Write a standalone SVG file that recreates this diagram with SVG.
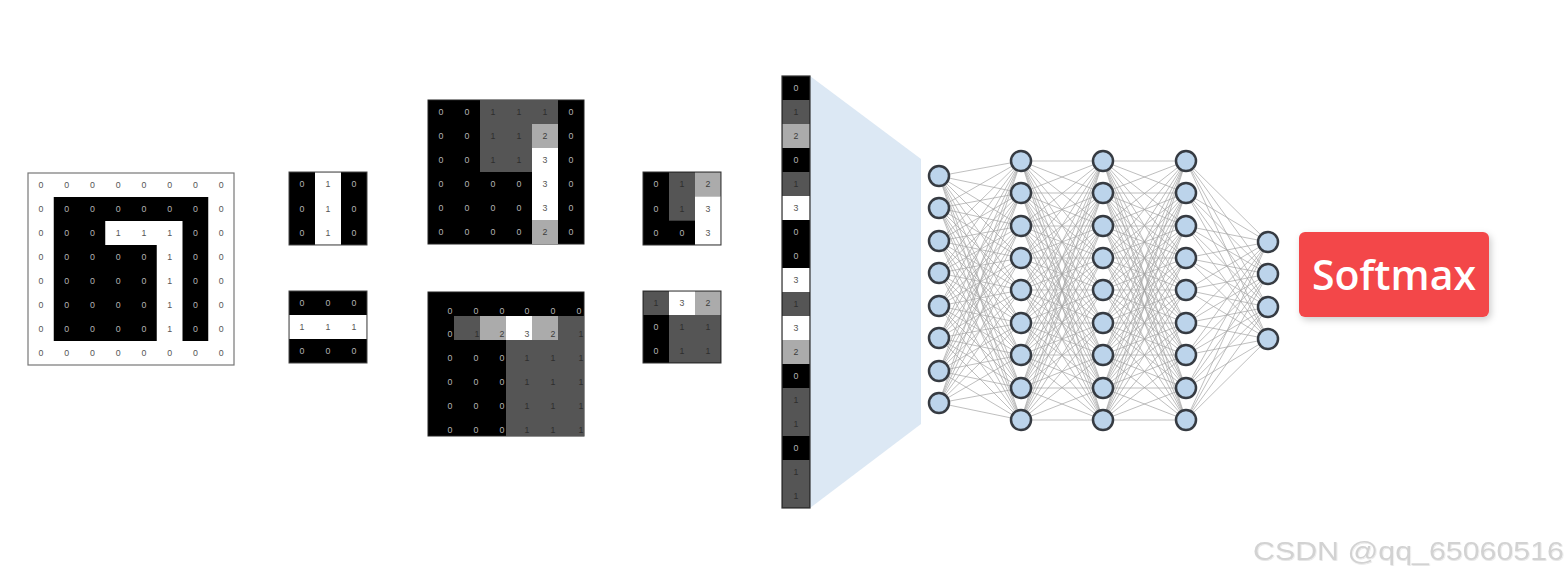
<svg xmlns="http://www.w3.org/2000/svg" xmlns:xlink="http://www.w3.org/1999/xlink" width="1568" height="578" viewBox="0 0 1568 578">
<style>
text{font-family:"Liberation Sans",Arial,sans-serif;font-size:8.8px;text-anchor:middle}
.tw{fill:#555}.tk{fill:#b4b4b4}.td{fill:#2e2e2e}.tl{fill:#3c3c3c}
.k{fill:#000}.w{fill:#fff}.d{fill:#555}.l{fill:#ababab}
.nd{fill:#bcd4eb;stroke:#363b42;stroke-width:2.5}
.ed{fill:none;stroke:#a3a3a3;stroke-width:0.7}
</style>
<defs>
<clipPath id="cpb"><rect x="428" y="292" width="156" height="144"/></clipPath>
<filter id="sh" x="-10%" y="-10%" width="130%" height="140%"><feDropShadow dx="2" dy="3" stdDeviation="3.5" flood-color="#000" flood-opacity="0.2"/></filter>
<filter id="ws" x="-5%" y="-20%" width="110%" height="150%"><feDropShadow dx="0.6" dy="0.8" stdDeviation="0.6" flood-color="#000" flood-opacity="0.12"/></filter>
<path id="e89" class="ed" d="M0 176L82 161M0 176L82 193M0 176L82 226M0 176L82 258M0 176L82 290M0 176L82 323M0 176L82 355M0 176L82 388M0 176L82 420M0 208L82 161M0 208L82 193M0 208L82 226M0 208L82 258M0 208L82 290M0 208L82 323M0 208L82 355M0 208L82 388M0 208L82 420M0 241L82 161M0 241L82 193M0 241L82 226M0 241L82 258M0 241L82 290M0 241L82 323M0 241L82 355M0 241L82 388M0 241L82 420M0 273L82 161M0 273L82 193M0 273L82 226M0 273L82 258M0 273L82 290M0 273L82 323M0 273L82 355M0 273L82 388M0 273L82 420M0 306L82 161M0 306L82 193M0 306L82 226M0 306L82 258M0 306L82 290M0 306L82 323M0 306L82 355M0 306L82 388M0 306L82 420M0 338L82 161M0 338L82 193M0 338L82 226M0 338L82 258M0 338L82 290M0 338L82 323M0 338L82 355M0 338L82 388M0 338L82 420M0 371L82 161M0 371L82 193M0 371L82 226M0 371L82 258M0 371L82 290M0 371L82 323M0 371L82 355M0 371L82 388M0 371L82 420M0 403L82 161M0 403L82 193M0 403L82 226M0 403L82 258M0 403L82 290M0 403L82 323M0 403L82 355M0 403L82 388M0 403L82 420"/>
<path id="e99" class="ed" d="M0 161L82 161M0 161L82 193M0 161L82 226M0 161L82 258M0 161L82 290M0 161L82 323M0 161L82 355M0 161L82 388M0 161L82 420M0 193L82 161M0 193L82 193M0 193L82 226M0 193L82 258M0 193L82 290M0 193L82 323M0 193L82 355M0 193L82 388M0 193L82 420M0 226L82 161M0 226L82 193M0 226L82 226M0 226L82 258M0 226L82 290M0 226L82 323M0 226L82 355M0 226L82 388M0 226L82 420M0 258L82 161M0 258L82 193M0 258L82 226M0 258L82 258M0 258L82 290M0 258L82 323M0 258L82 355M0 258L82 388M0 258L82 420M0 290L82 161M0 290L82 193M0 290L82 226M0 290L82 258M0 290L82 290M0 290L82 323M0 290L82 355M0 290L82 388M0 290L82 420M0 323L82 161M0 323L82 193M0 323L82 226M0 323L82 258M0 323L82 290M0 323L82 323M0 323L82 355M0 323L82 388M0 323L82 420M0 355L82 161M0 355L82 193M0 355L82 226M0 355L82 258M0 355L82 290M0 355L82 323M0 355L82 355M0 355L82 388M0 355L82 420M0 388L82 161M0 388L82 193M0 388L82 226M0 388L82 258M0 388L82 290M0 388L82 323M0 388L82 355M0 388L82 388M0 388L82 420M0 420L82 161M0 420L82 193M0 420L82 226M0 420L82 258M0 420L82 290M0 420L82 323M0 420L82 355M0 420L82 388M0 420L82 420"/>
<path id="e94" class="ed" d="M0 161L82 242M0 161L82 274M0 161L82 307M0 161L82 339M0 193L82 242M0 193L82 274M0 193L82 307M0 193L82 339M0 226L82 242M0 226L82 274M0 226L82 307M0 226L82 339M0 258L82 242M0 258L82 274M0 258L82 307M0 258L82 339M0 290L82 242M0 290L82 274M0 290L82 307M0 290L82 339M0 323L82 242M0 323L82 274M0 323L82 307M0 323L82 339M0 355L82 242M0 355L82 274M0 355L82 307M0 355L82 339M0 388L82 242M0 388L82 274M0 388L82 307M0 388L82 339M0 420L82 242M0 420L82 274M0 420L82 307M0 420L82 339"/>
</defs>
<rect width="1568" height="578" fill="#fff"/>

<g id="input-image">
<rect x="28" y="173" width="206" height="192" fill="#fff" stroke="#777" stroke-width="1.2"/>
<rect x="53.75" y="197" width="154.5" height="144" class="k"/>
<polygon points="105.25,221 182.5,221 182.5,341 156.75,341 156.75,245 105.25,245" class="w"/>
<text class="tw" x="41" y="188">0</text><text class="tw" x="66.6" y="188">0</text><text class="tw" x="92.4" y="188">0</text><text class="tw" x="118.1" y="188">0</text><text class="tw" x="143.9" y="188">0</text><text class="tw" x="169.6" y="188">0</text><text class="tw" x="195.4" y="188">0</text><text class="tw" x="221.1" y="188">0</text>
<text class="tw" x="41" y="212">0</text><text class="tk" x="66.6" y="212">0</text><text class="tk" x="92.4" y="212">0</text><text class="tk" x="118.1" y="212">0</text><text class="tk" x="143.9" y="212">0</text><text class="tk" x="169.6" y="212">0</text><text class="tk" x="195.4" y="212">0</text><text class="tw" x="221.1" y="212">0</text>
<text class="tw" x="41" y="236">0</text><text class="tk" x="66.6" y="236">0</text><text class="tk" x="92.4" y="236">0</text><text class="tw" x="118.1" y="236">1</text><text class="tw" x="143.9" y="236">1</text><text class="tw" x="169.6" y="236">1</text><text class="tk" x="195.4" y="236">0</text><text class="tw" x="221.1" y="236">0</text>
<text class="tw" x="41" y="260">0</text><text class="tk" x="66.6" y="260">0</text><text class="tk" x="92.4" y="260">0</text><text class="tk" x="118.1" y="260">0</text><text class="tk" x="143.9" y="260">0</text><text class="tw" x="169.6" y="260">1</text><text class="tk" x="195.4" y="260">0</text><text class="tw" x="221.1" y="260">0</text>
<text class="tw" x="41" y="284">0</text><text class="tk" x="66.6" y="284">0</text><text class="tk" x="92.4" y="284">0</text><text class="tk" x="118.1" y="284">0</text><text class="tk" x="143.9" y="284">0</text><text class="tw" x="169.6" y="284">1</text><text class="tk" x="195.4" y="284">0</text><text class="tw" x="221.1" y="284">0</text>
<text class="tw" x="41" y="308">0</text><text class="tk" x="66.6" y="308">0</text><text class="tk" x="92.4" y="308">0</text><text class="tk" x="118.1" y="308">0</text><text class="tk" x="143.9" y="308">0</text><text class="tw" x="169.6" y="308">1</text><text class="tk" x="195.4" y="308">0</text><text class="tw" x="221.1" y="308">0</text>
<text class="tw" x="41" y="332">0</text><text class="tk" x="66.6" y="332">0</text><text class="tk" x="92.4" y="332">0</text><text class="tk" x="118.1" y="332">0</text><text class="tk" x="143.9" y="332">0</text><text class="tw" x="169.6" y="332">1</text><text class="tk" x="195.4" y="332">0</text><text class="tw" x="221.1" y="332">0</text>
<text class="tw" x="41" y="356">0</text><text class="tw" x="66.6" y="356">0</text><text class="tw" x="92.4" y="356">0</text><text class="tw" x="118.1" y="356">0</text><text class="tw" x="143.9" y="356">0</text><text class="tw" x="169.6" y="356">0</text><text class="tw" x="195.4" y="356">0</text><text class="tw" x="221.1" y="356">0</text>
</g>

<g id="filter-vertical">
<rect x="289" y="172" width="78" height="73" class="k" stroke="#444" stroke-width="1"/>
<rect x="315" y="172.5" width="26" height="72" class="w"/>
<text class="tk" x="302" y="187.2">0</text><text class="tw" x="328" y="187.2">1</text><text class="tk" x="354" y="187.2">0</text>
<text class="tk" x="302" y="211.5">0</text><text class="tw" x="328" y="211.5">1</text><text class="tk" x="354" y="211.5">0</text>
<text class="tk" x="302" y="235.8">0</text><text class="tw" x="328" y="235.8">1</text><text class="tk" x="354" y="235.8">0</text>
</g>

<g id="filter-horizontal">
<rect x="289" y="291" width="78" height="72" class="k" stroke="#444" stroke-width="1"/>
<rect x="289.5" y="315" width="77" height="24" class="w"/>
<text class="tk" x="302" y="306">0</text><text class="tk" x="328" y="306">0</text><text class="tk" x="354" y="306">0</text>
<text class="tw" x="302" y="330">1</text><text class="tw" x="328" y="330">1</text><text class="tw" x="354" y="330">1</text>
<text class="tk" x="302" y="354">0</text><text class="tk" x="328" y="354">0</text><text class="tk" x="354" y="354">0</text>
</g>

<g id="feature-map-1">
<rect x="428" y="100" width="156" height="144" class="k" stroke="#222" stroke-width="1"/>
<rect x="480" y="100" width="78" height="24" class="d"/>
<rect x="480" y="124" width="52" height="48" class="d"/>
<rect x="532" y="124" width="26" height="24" class="l"/>
<rect x="532" y="148" width="26" height="72" class="w"/>
<rect x="532" y="220" width="26" height="24" class="l"/>
<text class="tk" x="441" y="115">0</text><text class="tk" x="467" y="115">0</text><text class="td" x="493" y="115">1</text><text class="td" x="519" y="115">1</text><text class="td" x="545" y="115">1</text><text class="tk" x="571" y="115">0</text>
<text class="tk" x="441" y="139">0</text><text class="tk" x="467" y="139">0</text><text class="td" x="493" y="139">1</text><text class="td" x="519" y="139">1</text><text class="tl" x="545" y="139">2</text><text class="tk" x="571" y="139">0</text>
<text class="tk" x="441" y="163">0</text><text class="tk" x="467" y="163">0</text><text class="td" x="493" y="163">1</text><text class="td" x="519" y="163">1</text><text class="tw" x="545" y="163">3</text><text class="tk" x="571" y="163">0</text>
<text class="tk" x="441" y="187">0</text><text class="tk" x="467" y="187">0</text><text class="tk" x="493" y="187">0</text><text class="tk" x="519" y="187">0</text><text class="tw" x="545" y="187">3</text><text class="tk" x="571" y="187">0</text>
<text class="tk" x="441" y="211">0</text><text class="tk" x="467" y="211">0</text><text class="tk" x="493" y="211">0</text><text class="tk" x="519" y="211">0</text><text class="tw" x="545" y="211">3</text><text class="tk" x="571" y="211">0</text>
<text class="tk" x="441" y="235">0</text><text class="tk" x="467" y="235">0</text><text class="tk" x="493" y="235">0</text><text class="tk" x="519" y="235">0</text><text class="tl" x="545" y="235">2</text><text class="tk" x="571" y="235">0</text>
</g>

<g id="feature-map-2">
<rect x="428" y="292" width="156" height="144" class="k" stroke="#222" stroke-width="1"/>
<g clip-path="url(#cpb)">
<rect x="454" y="316" width="26" height="24" class="d"/>
<rect x="480" y="316" width="26" height="24" class="l"/>
<rect x="506" y="316" width="26" height="24" class="w"/>
<rect x="532" y="316" width="26" height="24" class="l"/>
<rect x="558" y="316" width="26" height="24" class="d"/>
<rect x="506" y="340" width="78" height="96" class="d"/>
<text class="tk" x="450" y="314">0</text><text class="tk" x="476" y="314">0</text><text class="tk" x="502" y="314">0</text><text class="tk" x="527" y="314">0</text><text class="tk" x="553" y="314">0</text><text class="tk" x="579" y="314">0</text>
<text class="tk" x="450" y="337">0</text><text class="td" x="477" y="337">1</text><text class="tl" x="502" y="337">2</text><text class="tw" x="527" y="337">3</text><text class="tl" x="553" y="337">2</text><text class="td" x="581" y="337">1</text>
<text class="tk" x="450" y="361">0</text><text class="tk" x="476" y="361">0</text><text class="tk" x="502" y="361">0</text><text class="td" x="527" y="361">1</text><text class="td" x="553" y="361">1</text><text class="td" x="581" y="361">1</text>
<text class="tk" x="450" y="385">0</text><text class="tk" x="476" y="385">0</text><text class="tk" x="502" y="385">0</text><text class="td" x="527" y="385">1</text><text class="td" x="553" y="385">1</text><text class="td" x="581" y="385">1</text>
<text class="tk" x="450" y="409">0</text><text class="tk" x="476" y="409">0</text><text class="tk" x="502" y="409">0</text><text class="td" x="527" y="409">1</text><text class="td" x="553" y="409">1</text><text class="td" x="581" y="409">1</text>
<text class="tk" x="450" y="433">0</text><text class="tk" x="476" y="433">0</text><text class="tk" x="502" y="433">0</text><text class="td" x="527" y="433">1</text><text class="td" x="553" y="433">1</text><text class="td" x="581" y="433">1</text>
</g>
</g>

<g id="pooled-1">
<rect x="643" y="172" width="78" height="73" class="k" stroke="#333" stroke-width="1"/>
<rect x="669" y="172.5" width="26" height="48.2" class="d"/>
<rect x="695" y="172.5" width="25.5" height="23.8" class="l"/>
<rect x="695" y="196.3" width="25.5" height="48.2" class="w"/>
<text class="tk" x="656" y="187.2">0</text><text class="td" x="682" y="187.2">1</text><text class="tl" x="708" y="187.2">2</text>
<text class="tk" x="656" y="211.5">0</text><text class="td" x="682" y="211.5">1</text><text class="tw" x="708" y="211.5">3</text>
<text class="tk" x="656" y="235.8">0</text><text class="tk" x="682" y="235.8">0</text><text class="tw" x="708" y="235.8">3</text>
</g>

<g id="pooled-2">
<rect x="643" y="291" width="78" height="72" class="k" stroke="#333" stroke-width="1"/>
<rect x="643.5" y="291.5" width="25.5" height="23.5" class="d"/>
<rect x="669" y="291.5" width="26" height="23.5" class="w"/>
<rect x="695" y="291.5" width="25.5" height="23.5" class="l"/>
<rect x="669" y="315" width="51.5" height="47.5" class="d"/>
<text class="td" x="656" y="306">1</text><text class="tw" x="682" y="306">3</text><text class="tl" x="708" y="306">2</text>
<text class="tk" x="656" y="330">0</text><text class="td" x="682" y="330">1</text><text class="td" x="708" y="330">1</text>
<text class="tk" x="656" y="354">0</text><text class="td" x="682" y="354">1</text><text class="td" x="708" y="354">1</text>
</g>

<g id="projection">
<polygon points="810,76 921,159 921,424 810,508" fill="#dce8f4"/>
</g>

<g id="flatten">
<rect x="782" y="76" width="28" height="432" class="k" stroke="#333" stroke-width="1.2"/>
<rect x="782.6" y="100" width="26.8" height="24" class="d"/>
<rect x="782.6" y="124" width="26.8" height="24" class="l"/>
<rect x="782.6" y="172" width="26.8" height="24" class="d"/>
<rect x="782.6" y="196" width="26.8" height="24" class="w"/>
<rect x="782.6" y="268" width="26.8" height="24" class="w"/>
<rect x="782.6" y="292" width="26.8" height="24" class="d"/>
<rect x="782.6" y="316" width="26.8" height="24" class="w"/>
<rect x="782.6" y="340" width="26.8" height="24" class="l"/>
<rect x="782.6" y="388" width="26.8" height="48" class="d"/>
<rect x="782.6" y="460" width="26.8" height="47.4" class="d"/>
<text class="tk" x="796" y="91">0</text>
<text class="td" x="796" y="115">1</text>
<text class="tl" x="796" y="139">2</text>
<text class="tk" x="796" y="163">0</text>
<text class="td" x="796" y="187">1</text>
<text class="tw" x="796" y="211">3</text>
<text class="tk" x="796" y="235">0</text>
<text class="tk" x="796" y="259">0</text>
<text class="tw" x="796" y="283">3</text>
<text class="td" x="796" y="307">1</text>
<text class="tw" x="796" y="331">3</text>
<text class="tl" x="796" y="355">2</text>
<text class="tk" x="796" y="379">0</text>
<text class="td" x="796" y="403">1</text>
<text class="td" x="796" y="427">1</text>
<text class="tk" x="796" y="451">0</text>
<text class="td" x="796" y="475">1</text>
<text class="td" x="796" y="499">1</text>
</g>

<g id="connectors">
<use href="#e89" x="939"/>
<use href="#e99" x="1021"/>
<use href="#e99" transform="translate(1103 0) scale(1.012 1)"/>
<use href="#e94" x="1186"/>
</g>

<g id="layer-1">
<circle id="n1-1" class="nd" cx="939" cy="176" r="10"/><circle id="n1-2" class="nd" cx="939" cy="208" r="10"/><circle id="n1-3" class="nd" cx="939" cy="241" r="10"/><circle id="n1-4" class="nd" cx="939" cy="273" r="10"/><circle id="n1-5" class="nd" cx="939" cy="306" r="10"/><circle id="n1-6" class="nd" cx="939" cy="338" r="10"/><circle id="n1-7" class="nd" cx="939" cy="371" r="10"/><circle id="n1-8" class="nd" cx="939" cy="403" r="10"/>
</g>
<g id="layer-2">
<circle id="n2-1" class="nd" cx="1021" cy="161" r="10"/><circle id="n2-2" class="nd" cx="1021" cy="193" r="10"/><circle id="n2-3" class="nd" cx="1021" cy="226" r="10"/><circle id="n2-4" class="nd" cx="1021" cy="258" r="10"/><circle id="n2-5" class="nd" cx="1021" cy="290" r="10"/><circle id="n2-6" class="nd" cx="1021" cy="323" r="10"/><circle id="n2-7" class="nd" cx="1021" cy="355" r="10"/><circle id="n2-8" class="nd" cx="1021" cy="388" r="10"/><circle id="n2-9" class="nd" cx="1021" cy="420" r="10"/>
</g>
<g id="layer-3">
<circle id="n3-1" class="nd" cx="1103" cy="161" r="10"/><circle id="n3-2" class="nd" cx="1103" cy="193" r="10"/><circle id="n3-3" class="nd" cx="1103" cy="226" r="10"/><circle id="n3-4" class="nd" cx="1103" cy="258" r="10"/><circle id="n3-5" class="nd" cx="1103" cy="290" r="10"/><circle id="n3-6" class="nd" cx="1103" cy="323" r="10"/><circle id="n3-7" class="nd" cx="1103" cy="355" r="10"/><circle id="n3-8" class="nd" cx="1103" cy="388" r="10"/><circle id="n3-9" class="nd" cx="1103" cy="420" r="10"/>
</g>
<g id="layer-4">
<circle id="n4-1" class="nd" cx="1186" cy="161" r="10"/><circle id="n4-2" class="nd" cx="1186" cy="193" r="10"/><circle id="n4-3" class="nd" cx="1186" cy="226" r="10"/><circle id="n4-4" class="nd" cx="1186" cy="258" r="10"/><circle id="n4-5" class="nd" cx="1186" cy="290" r="10"/><circle id="n4-6" class="nd" cx="1186" cy="323" r="10"/><circle id="n4-7" class="nd" cx="1186" cy="355" r="10"/><circle id="n4-8" class="nd" cx="1186" cy="388" r="10"/><circle id="n4-9" class="nd" cx="1186" cy="420" r="10"/>
</g>
<g id="layer-5">
<circle id="n5-1" class="nd" cx="1268" cy="242" r="10"/><circle id="n5-2" class="nd" cx="1268" cy="274" r="10"/><circle id="n5-3" class="nd" cx="1268" cy="307" r="10"/><circle id="n5-4" class="nd" cx="1268" cy="339" r="10"/>
</g>

<g id="softmax">
<rect x="1299" y="232" width="190" height="85" rx="6" fill="#f3474a" filter="url(#sh)"/>
<text x="1394" y="290" style="font-family:'Open Sans','Noto Sans',sans-serif;font-size:42px;fill:#fff;font-weight:600" textLength="164" lengthAdjust="spacingAndGlyphs">Softmax</text>
</g>

<g id="watermark">
<text x="1253" y="560" style="font-family:'Liberation Sans',Arial,sans-serif;font-size:26px;fill:#d2d2d2;text-anchor:start" textLength="311" lengthAdjust="spacingAndGlyphs" filter="url(#ws)">CSDN @qq_65060516</text>
</g>
</svg>
